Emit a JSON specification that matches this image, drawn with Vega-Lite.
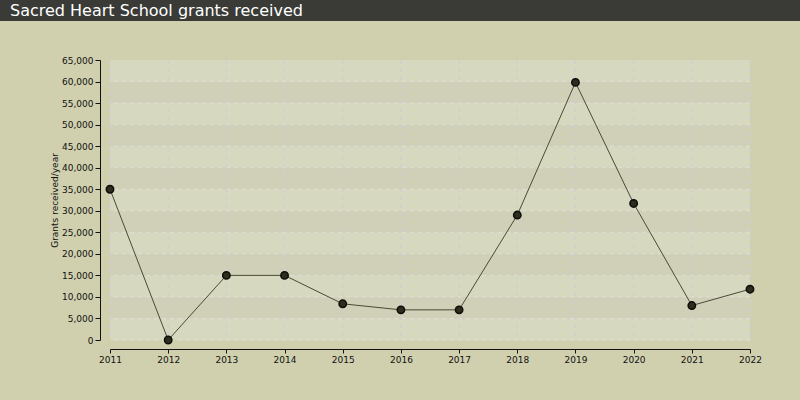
{
  "$schema": "https://vega.github.io/schema/vega-lite/v6.json",
  "background": "#d0d0ae",
  "padding": {"left": 0, "top": 0, "right": 0, "bottom": 40},
  "spacing": 35,
  "config": {
    "font": "DejaVu Sans",
    "view": {"stroke": null},
    "axis": {"labelFont": "DejaVu Sans", "titleFont": "DejaVu Sans"}
  },
  "datasets": {
    "grants": [
      {"year": "2011", "grants": 35000},
      {"year": "2012", "grants": 0},
      {"year": "2013", "grants": 15000},
      {"year": "2014", "grants": 15000},
      {"year": "2015", "grants": 8400},
      {"year": "2016", "grants": 7000},
      {"year": "2017", "grants": 7000},
      {"year": "2018", "grants": 29000},
      {"year": "2019", "grants": 59800},
      {"year": "2020", "grants": 31700},
      {"year": "2021", "grants": 8000},
      {"year": "2022", "grants": 11800}
    ],
    "bands": [
      {"lo": 0, "hi": 5000, "band": "a"},
      {"lo": 5000, "hi": 10000, "band": "b"},
      {"lo": 10000, "hi": 15000, "band": "a"},
      {"lo": 15000, "hi": 20000, "band": "b"},
      {"lo": 20000, "hi": 25000, "band": "a"},
      {"lo": 25000, "hi": 30000, "band": "b"},
      {"lo": 30000, "hi": 35000, "band": "a"},
      {"lo": 35000, "hi": 40000, "band": "b"},
      {"lo": 40000, "hi": 45000, "band": "a"},
      {"lo": 45000, "hi": 50000, "band": "b"},
      {"lo": 50000, "hi": 55000, "band": "a"},
      {"lo": 55000, "hi": 60000, "band": "b"},
      {"lo": 60000, "hi": 65000, "band": "a"}
    ]
  },
  "vconcat": [
    {
      "width": 800,
      "height": 21,
      "view": {"fill": "#3a3b36", "stroke": null},
      "data": {"values": [{"label": "Sacred Heart School grants received"}]},
      "mark": {
        "type": "text",
        "align": "left",
        "baseline": "middle",
        "dx": -390,
        "dy": 0,
        "color": "#ffffff",
        "fontSize": 16,
        "font": "DejaVu Sans"
      },
      "encoding": {"text": {"field": "label"}}
    },
    {
      "spacing": 0,
      "hconcat": [
        {
          "width": 50,
          "height": 280,
          "data": {"values": [{}]},
          "mark": {"type": "point", "opacity": 0},
          "encoding": {}
        },
        {
          "width": 640,
          "height": 280,
          "layer": [
            {
              "data": {"name": "bands"},
              "mark": {"type": "rect"},
              "encoding": {
                "y": {
                  "field": "lo",
                  "type": "quantitative",
                  "scale": {"domain": [0, 65000], "nice": false},
                  "axis": {
                    "title": "Grants received/year",
                    "titleFontSize": 9,
                    "titleFontWeight": "normal",
                    "titleColor": "#111111",
                    "titlePadding": 2,
                    "values": [0, 5000, 10000, 15000, 20000, 25000, 30000, 35000, 40000, 45000, 50000, 55000, 60000, 65000],
                    "format": ",d",
                    "labelFontSize": 9,
                    "labelColor": "#111111",
                    "offset": 10,
                    "domainColor": "#111111",
                    "tickColor": "#111111",
                    "tickSize": 5,
                    "labelPadding": 2,
                    "grid": false
                  }
                },
                "y2": {"field": "hi"},
                "color": {
                  "field": "band",
                  "type": "nominal",
                  "scale": {"domain": ["a", "b"], "range": ["#d6d8c0", "#cfd0b7"]},
                  "legend": null
                }
              }
            },
            {
              "data": {"name": "bands"},
              "mark": {"type": "rule", "color": "#e0dfda", "strokeDash": [4, 4], "strokeWidth": 1},
              "encoding": {
                "y": {
                  "field": "lo",
                  "type": "quantitative",
                  "axis": {
                    "title": "Grants received/year",
                    "titleFontSize": 9,
                    "titleFontWeight": "normal",
                    "titleColor": "#111111",
                    "titlePadding": 2,
                    "values": [0, 5000, 10000, 15000, 20000, 25000, 30000, 35000, 40000, 45000, 50000, 55000, 60000, 65000],
                    "format": ",d",
                    "labelFontSize": 9,
                    "labelColor": "#111111",
                    "offset": 10,
                    "domainColor": "#111111",
                    "tickColor": "#111111",
                    "tickSize": 5,
                    "labelPadding": 2,
                    "grid": false
                  }
                }
              }
            },
            {
              "data": {"name": "grants"},
              "mark": {"type": "rule", "color": "#cfcdd6", "strokeDash": [4, 4], "strokeWidth": 1},
              "encoding": {
                "x": {
                  "field": "year",
                  "type": "ordinal",
                  "scale": {"type": "point", "padding": 0},
                  "axis": {
                    "title": null,
                    "labelAngle": 0,
                    "labelFontSize": 9,
                    "labelColor": "#111111",
                    "offset": 9,
                    "domainColor": "#111111",
                    "tickColor": "#111111",
                    "tickSize": 4,
                    "labelPadding": 2,
                    "grid": false
                  }
                }
              }
            },
            {
              "data": {"name": "grants"},
              "mark": {"type": "line", "color": "#4b4a33", "strokeWidth": 1},
              "encoding": {
                "x": {
                  "field": "year",
                  "type": "ordinal",
                  "axis": {
                    "title": null,
                    "labelAngle": 0,
                    "labelFontSize": 9,
                    "labelColor": "#111111",
                    "offset": 9,
                    "domainColor": "#111111",
                    "tickColor": "#111111",
                    "tickSize": 4,
                    "labelPadding": 2,
                    "grid": false
                  }
                },
                "y": {
                  "field": "grants",
                  "type": "quantitative",
                  "axis": {
                    "title": "Grants received/year",
                    "titleFontSize": 9,
                    "titleFontWeight": "normal",
                    "titleColor": "#111111",
                    "titlePadding": 2,
                    "values": [0, 5000, 10000, 15000, 20000, 25000, 30000, 35000, 40000, 45000, 50000, 55000, 60000, 65000],
                    "format": ",d",
                    "labelFontSize": 9,
                    "labelColor": "#111111",
                    "offset": 10,
                    "domainColor": "#111111",
                    "tickColor": "#111111",
                    "tickSize": 5,
                    "labelPadding": 2,
                    "grid": false
                  }
                }
              }
            },
            {
              "data": {"name": "grants"},
              "mark": {"type": "point", "filled": true, "fill": "#2e2c1c", "stroke": "#0d0d0a", "strokeWidth": 1.5, "size": 55, "opacity": 1},
              "encoding": {
                "x": {
                  "field": "year",
                  "type": "ordinal",
                  "axis": {
                    "title": null,
                    "labelAngle": 0,
                    "labelFontSize": 9,
                    "labelColor": "#111111",
                    "offset": 9,
                    "domainColor": "#111111",
                    "tickColor": "#111111",
                    "tickSize": 4,
                    "labelPadding": 2,
                    "grid": false
                  }
                },
                "y": {
                  "field": "grants",
                  "type": "quantitative",
                  "axis": {
                    "title": "Grants received/year",
                    "titleFontSize": 9,
                    "titleFontWeight": "normal",
                    "titleColor": "#111111",
                    "titlePadding": 2,
                    "values": [0, 5000, 10000, 15000, 20000, 25000, 30000, 35000, 40000, 45000, 50000, 55000, 60000, 65000],
                    "format": ",d",
                    "labelFontSize": 9,
                    "labelColor": "#111111",
                    "offset": 10,
                    "domainColor": "#111111",
                    "tickColor": "#111111",
                    "tickSize": 5,
                    "labelPadding": 2,
                    "grid": false
                  }
                }
              }
            }
          ]
        }
      ]
    }
  ]
}
